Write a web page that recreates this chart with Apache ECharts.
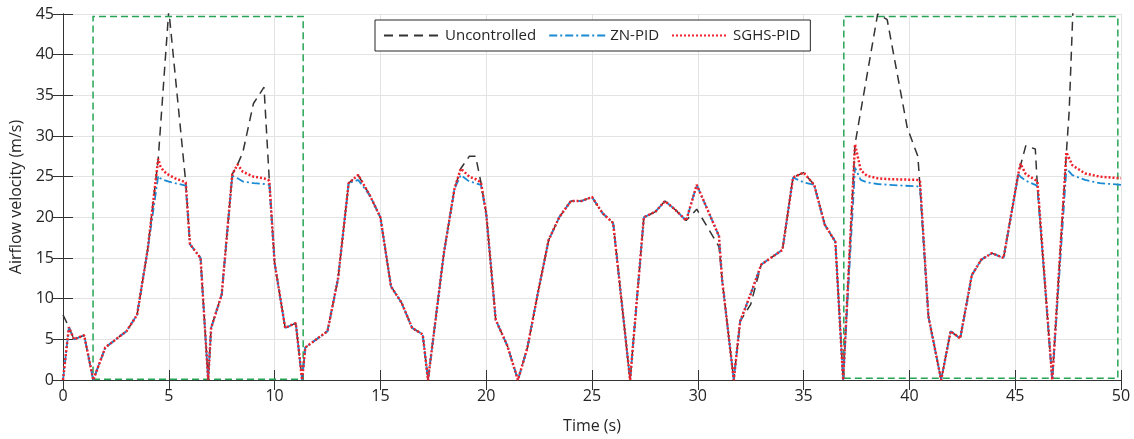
<!DOCTYPE html>
<html>
<head>
<meta charset="utf-8">
<script src="https://cdn.jsdelivr.net/npm/echarts@6/dist/echarts.min.js"></script>
<style>
  html, body { margin: 0; padding: 0; background: #fff; }
  #chart { width: 1134px; height: 439px; }
</style>
</head>
<body>
<div id="chart"></div>
<script>
// time (s) shared by the three responses
const time = [
  0.0, 0.28, 0.52, 1.0, 1.43, 2.0, 2.5, 3.0, 3.5, 4.0,
  4.5, 4.6, 4.75, 5.0, 5.3, 5.8, 6.0, 6.5, 6.86, 7.0,
  7.5, 8.0, 8.25, 8.5, 9.0, 9.5, 9.75, 10.0, 10.5, 11.0,
  11.3, 11.45, 12.5, 13.0, 13.5, 13.95, 14.5, 15.0, 15.5, 16.0,
  16.5, 17.0, 17.25, 18.0, 18.5, 18.8, 19.2, 19.5, 19.75, 20.0,
  20.45, 21.0, 21.5, 21.95, 22.45, 22.95, 23.45, 24.0, 24.5, 25.0,
  25.5, 26.0, 26.8, 27.45, 28.0, 28.45, 28.95, 29.45, 29.95, 31.0,
  31.15, 31.7, 32.0, 32.5, 33.0, 34.0, 34.5, 35.0, 35.5, 36.0,
  36.5, 36.87, 37.43, 37.7, 38.0, 38.5, 38.95, 39.0, 39.9, 40.4,
  40.5, 40.9, 41.5, 41.95, 42.4, 42.95, 43.4, 43.9, 44.45, 45.15,
  45.25, 45.5, 45.95, 46.05, 46.75, 47.42, 47.55, 47.7, 47.75, 48.3,
  49.0, 50.0
];
const uncontrolled = [
  8.0, 6.5, 5.0, 5.5, 0, 4.0, 5.0, 6.0, 8.0, 16.0,
  27.2, null, null, 45.5, null, 24.3, 16.7, 15.0, 0, 6.4,
  10.5, 25.3, 26.5, 28.0, 34.0, 36.0, 24.5, 14.4, 6.4, 7.0,
  0, 4.0, 6.0, 12.5, 24.2, 25.2, 22.7, 20.0, 11.5, 9.5,
  6.4, 5.6, 0, 15.6, 23.5, 26.0, 27.5, 27.5, 24.3, 20.5,
  7.4, 4.2, 0, 4.0, 10.8, 17.2, 20.0, 22.0, 22.0, 22.5,
  20.5, 19.3, 0, 20.0, 20.7, 22.0, 20.9, 19.6, 21.0, 16.4,
  12.3, 0, 7.2, 9.3, 14.2, 16.0, 24.9, 25.5, 24.0, 19.1,
  17.0, 0, 29.0, null, null, 45.0, 44.3, null, 31.0, 27.5,
  23.8, 7.8, 0, 6.0, 5.1, 12.9, 14.8, 15.6, 15.0, 25.4,
  null, 28.8, 28.4, 23.8, 0, 28.0, 33.0, null, 47.0, null,
  null, null
];
const znPid = [
  0, 6.5, 5.0, 5.5, 0, 4.0, 5.0, 6.0, 8.0, 16.0,
  25.1, 24.8, 24.6, 24.4, 24.2, 23.9, 16.7, 15.0, 0, 6.4,
  10.5, 25.1, 24.8, 24.4, 24.2, 24.1, 24.0, 14.4, 6.4, 7.0,
  0, 4.0, 6.0, 12.5, 24.2, 24.6, 22.7, 20.0, 11.5, 9.5,
  6.4, 5.6, 0, 15.6, 23.5, 25.2, 24.4, 24.2, 24.0, 20.5,
  7.4, 4.2, 0, 4.0, 10.8, 17.2, 20.0, 22.0, 22.0, 22.5,
  20.5, 19.3, 0, 20.0, 20.7, 22.0, 20.9, 19.6, 24.0, 17.7,
  12.3, 0, 7.2, 10.6, 14.2, 16.0, 24.9, 24.3, 24.0, 19.1,
  17.0, 0, 26.1, 24.6, 24.3, 24.1, null, 24.0, null, 23.8,
  23.8, 7.8, 0, 6.0, 5.1, 12.9, 14.8, 15.6, 15.0, 25.3,
  25.0, 24.5, 24.0, 23.8, 0, 26.0, null, 25.2, null, 24.6,
  24.2, 24.0
];
const sghsPid = [
  0, 6.5, 5.0, 5.5, 0, 4.0, 5.0, 6.0, 8.0, 16.0,
  27.2, 26.3, 25.7, 25.2, 24.8, 24.3, 16.7, 15.0, 0, 6.4,
  10.5, 25.3, 26.5, 25.6, 25.0, 24.8, 24.5, 14.4, 6.4, 7.0,
  0, 4.0, 6.0, 12.5, 24.2, 25.2, 22.7, 20.0, 11.5, 9.5,
  6.4, 5.6, 0, 15.6, 23.5, 26.0, 25.0, 24.7, 24.3, 20.5,
  7.4, 4.2, 0, 4.0, 10.8, 17.2, 20.0, 22.0, 22.0, 22.5,
  20.5, 19.3, 0, 20.0, 20.7, 22.0, 20.9, 19.6, 24.0, 17.7,
  12.3, 0, 7.2, 10.6, 14.2, 16.0, 24.9, 25.5, 24.0, 19.1,
  17.0, 0, 29.0, 25.8, 25.1, 24.8, null, 24.7, null, 24.6,
  24.5, 7.8, 0, 6.0, 5.1, 12.9, 14.8, 15.6, 15.0, 25.4,
  26.6, 25.3, 24.6, 24.4, 0, 28.0, null, 26.4, null, 25.4,
  25.0, 24.8
];

// dashed green boxes (fault windows)
const boxStart = [1.42, 36.9];
const boxEnd = [11.35, 49.85];
const boxLow = [0.1, 0.2];
const boxHigh = [44.7, 44.7];

const pairs = (vals) => time.map((t, i) => [t, vals[i]]);
const font = 'Open Sans';
const ink = '#262626';

const boxes = boxStart.map((s, i) => [
  { coord: [s, boxLow[i]] },
  { coord: [boxEnd[i], boxHigh[i]] }
]);

const myChart = echarts.init(document.getElementById('chart'));
const option = {
  animation: false,
  textStyle: { fontFamily: font },
  grid: { left: 63, right: 13, top: 14, bottom: 58 },
  legend: {
    left: 375,
    top: 20,
    padding: [8, 10, 8, 8],
    itemGap: 12,
    itemWidth: 56,
    itemHeight: 10,
    borderColor: ink,
    borderWidth: 1,
    backgroundColor: '#fff',
    itemStyle: { opacity: 0 },
    textStyle: { fontFamily: font, fontSize: 15, color: ink },
    data: ['Uncontrolled', 'ZN-PID', 'SGHS-PID']
  },
  xAxis: [
    {
      type: 'value', min: 0, max: 50, interval: 5,
      name: 'Time (s)', nameLocation: 'middle', nameGap: 38,
      nameTextStyle: { fontFamily: font, fontSize: 16, color: ink },
      axisLine: { lineStyle: { color: '#333', width: 1 } },
      axisTick: { inside: true, length: 10, lineStyle: { color: '#333' } },
      axisLabel: { fontFamily: font, fontSize: 16, color: ink, margin: 8 },
      splitLine: { show: true, lineStyle: { color: '#e3e3e3' } }
    },
    {
      type: 'value', min: 0, max: 50, interval: 5, position: 'top',
      axisLine: { show: true, lineStyle: { color: '#333', width: 1 } },
      axisTick: { show: true, inside: true, length: 10, lineStyle: { color: '#333' } },
      axisLabel: { show: false },
      splitLine: { show: false }
    }
  ],
  yAxis: [
    {
      type: 'value', min: 0, max: 45, interval: 5,
      name: 'Airflow velocity (m/s)', nameLocation: 'middle', nameGap: 31,
      nameTextStyle: { fontFamily: font, fontSize: 16, color: ink },
      axisLine: { show: true, lineStyle: { color: '#333', width: 1 } },
      axisTick: { show: true, inside: true, length: 10, lineStyle: { color: '#333' } },
      axisLabel: { fontFamily: font, fontSize: 16, color: ink, margin: 9 },
      splitLine: { show: true, lineStyle: { color: '#e3e3e3' } }
    },
    {
      type: 'value', min: 0, max: 45, interval: 5, position: 'right',
      axisLine: { show: true, lineStyle: { color: '#333', width: 1 } },
      axisTick: { show: true, inside: true, length: 10, lineStyle: { color: '#333' } },
      axisLabel: { show: false },
      splitLine: { show: false }
    }
  ],
  series: [
    {
      name: 'Uncontrolled',
      type: 'line',
      data: pairs(uncontrolled),
      connectNulls: true,
      symbol: 'none',
      color: '#333333',
      lineStyle: { color: '#333333', width: 1.5, type: [9, 6] },
      z: 2
    },
    {
      name: 'ZN-PID',
      type: 'line',
      data: pairs(znPid),
      connectNulls: true,
      symbol: 'none',
      color: '#1a8ad4',
      lineStyle: { color: '#1a8ad4', width: 1.8, type: [8, 3, 2, 3] },
      z: 3
    },
    {
      name: 'SGHS-PID',
      type: 'line',
      data: pairs(sghsPid),
      connectNulls: true,
      symbol: 'none',
      color: '#f0202a',
      lineStyle: { color: '#f0202a', width: 2.5, type: [2, 2] },
      z: 4,
      markArea: {
        silent: true,
        itemStyle: {
          color: 'rgba(0,0,0,0)',
          borderColor: '#27a556',
          borderWidth: 1.5,
          borderType: [7, 4]
        },
        data: boxes
      }
    }
  ]
};
myChart.setOption(option);
</script>
</body>
</html>
